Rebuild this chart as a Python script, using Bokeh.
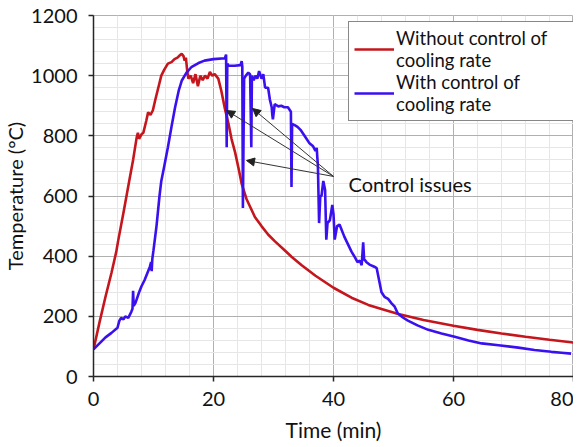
from bokeh.plotting import figure
from bokeh.models import (ColumnDataSource, SingleIntervalTicker, Range1d, Legend, LegendItem,
                          Arrow, NormalHead, Label)
from bokeh.embed import file_html
from bokeh.resources import INLINE

# ---- data ----
t_without = [0, 1, 2, 3, 3.8, 4.1, 5, 6, 6.6, 7.0, 7.2, 7.4, 7.6, 8.0, 8.3, 8.8, 9.1, 9.5, 9.9,
             10.3, 10.8, 11.3, 11.8, 12.4, 13, 13.5, 14, 14.4, 14.7, 15.0, 15.2, 15.4, 15.6, 15.8,
             16.2, 16.6, 17.0, 17.4, 17.8, 18.2, 18.6, 19.0, 19.4, 19.8, 20.2, 20.8, 21.3, 21.9,
             22.5, 23.0, 23.6, 24.2, 24.7, 25.5, 26.2, 26.9, 28, 29.1, 30.2, 31.9, 33, 34.7, 37,
             40, 43, 45.8, 48, 50.8, 55, 60, 64, 68, 72, 76, 80]
T_without = [90, 180, 265, 345, 415, 450, 545, 655, 720, 770, 795, 810, 790, 805, 810, 850, 878,
             870, 885, 920, 960, 1000, 1020, 1040, 1045, 1055, 1060, 1068, 1073, 1065, 1050, 1060,
             1020, 990, 1000, 975, 1005, 965, 1000, 985, 1000, 990, 1012, 1000, 1005, 990, 950,
             890, 840, 790, 745, 690, 640, 590, 560, 530, 500, 472, 450, 419, 398, 370, 335, 295,
             262, 238, 224, 208, 188, 169, 155, 143, 132, 122, 113]

t_with = [0, 1, 2, 3, 4, 4.3, 4.6, 5.0, 5.3, 5.8, 6.3, 6.5, 6.6, 6.7, 7.0, 7.6, 8.0, 8.5, 9.0,
          9.4, 9.6, 9.7, 9.8, 10.0, 10.5, 11.0, 11.3, 11.8, 12.4, 13.0, 13.6, 14.2, 14.7, 15.5,
          16.3, 17.5, 18.5, 20, 21.9, 22.1, 22.2, 22.3, 22.5, 23.5, 24.5, 24.7, 24.8, 24.9, 25.1,
          25.4, 25.8, 26.1, 26.3, 26.4, 26.7, 27.0, 27.3, 27.6, 28.0, 28.3, 28.6, 29.1, 29.4,
          29.7, 29.8, 29.9, 30.2, 30.8, 31.3, 31.8, 32.4, 32.9, 33.0, 33.1, 33.6, 34.0, 34.5,
          35.0, 35.5, 36.0, 36.6, 37.0, 37.2, 37.4, 37.6, 37.8, 38.0, 38.3, 38.6, 38.8, 39.0,
          39.4, 39.8, 40.0, 40.2, 40.6, 41.0, 41.3, 41.8, 42.4, 43.0, 43.6, 44.0, 44.4, 44.7,
          44.95, 45.1, 45.5, 46.0, 46.8, 47.2, 47.6, 48.0, 48.5, 49.1, 49.6, 50.2, 50.7, 51.5,
          52.4, 54, 55.8, 58, 60.2, 62.5, 64.7, 67.5, 70.8, 73.5, 76.3, 78, 79.6]
T_with = [90, 110, 130, 145, 162, 185, 195, 190, 200, 195, 215, 225, 285, 235, 245, 280, 300,
          320, 345, 365, 380, 350, 390, 420, 500, 600, 650, 700, 762, 830, 895, 950, 983, 1010,
          1028, 1042, 1050, 1055, 1058, 1070, 762, 1040, 1033, 1033, 1035, 1048, 1030, 560, 990,
          1000, 1010, 1005, 762, 1000, 985, 1000, 990, 1015, 990, 1005, 960, 960, 920, 895, 870,
          855, 905, 898, 900, 895, 895, 880, 630, 840, 835, 830, 820, 805, 790, 775, 765, 750,
          760, 700, 510, 600, 600, 650, 620, 455, 510, 520, 570, 540, 455, 500, 505, 490, 465,
          440, 415, 395, 380, 385, 370, 446, 390, 380, 372, 365, 360, 320, 280, 265, 258, 245,
          232, 210, 197, 186, 170, 155, 143, 132, 120, 110, 104, 96, 88, 82, 79, 76]

series_labels = ["Without control of\ncooling rate", "With control of\ncooling rate"]
annotation_text = "Control issues"
# arrows: common tail, three tips (time, temperature)
arrow_tail = (40.0, 665)
arrow_tips = [(22.2, 884), (26.5, 891), (25.5, 718)]
annotation_pos = (42.5, 641)

RED = "#C4161C"
BLUE = "#3A10F0"
FONT = "Lato"

p = figure(width=573, height=447, min_border_left=84, min_border_right=0,
           min_border_top=15, min_border_bottom=71, output_backend="svg", toolbar_location=None,
           x_range=Range1d(0, 80), y_range=Range1d(0, 1200),
           x_axis_label="Time (min)", y_axis_label="Temperature (°C)")

p.background_fill_color = "white"
p.border_fill_color = "white"
p.outline_line_color = "#B0B0B0"

p.xaxis.ticker = SingleIntervalTicker(interval=20, num_minor_ticks=5)
p.yaxis.ticker = SingleIntervalTicker(interval=200, num_minor_ticks=5)

for g in (p.xgrid, p.ygrid):
    g.grid_line_color = "#B0B0B0"
    g.grid_line_width = 1
    g.minor_grid_line_color = "#E6E6E6"
    g.minor_grid_line_width = 1

for ax in (p.xaxis, p.yaxis):
    ax.axis_line_color = "#262626"
    ax.axis_line_width = 1.5
    ax.major_tick_line_color = "#262626"
    ax.major_tick_line_width = 1.5
    ax.major_tick_out = 5
    ax.major_tick_in = 0
    ax.minor_tick_line_color = None
    ax.major_label_text_font = FONT
    ax.major_label_text_font_size = "20px"
    ax.major_label_text_color = "#111111"
    ax.axis_label_text_font = FONT
    ax.axis_label_text_font_style = "normal"
    ax.axis_label_text_color = "#111111"

p.xaxis.axis_label_text_font_size = "21px"
p.yaxis.axis_label_text_font_size = "20px"
p.xaxis.major_label_standoff = 10
p.xaxis.axis_label_standoff = 8
p.yaxis.major_label_standoff = 11
p.yaxis.axis_label_standoff = 1

src_red = ColumnDataSource(dict(t=t_without, T=T_without))
src_blue = ColumnDataSource(dict(t=t_with, T=T_with))
r_red = p.line("t", "T", source=src_red, line_color=RED, line_width=2.6)
r_blue = p.line("t", "T", source=src_blue, line_color=BLUE, line_width=2.6)

for (tx, ty) in arrow_tips:
    p.add_layout(Arrow(end=NormalHead(size=8, fill_color="#222222", line_color="#222222"),
                       x_start=arrow_tail[0], y_start=arrow_tail[1], x_end=tx, y_end=ty,
                       line_color="#333333", line_width=1))

p.add_layout(Label(x=annotation_pos[0], y=annotation_pos[1], text=annotation_text,
                   text_font=FONT, text_font_size="20px", text_baseline="middle",
                   text_align="left", text_color="#111111"))

legend = Legend(items=[LegendItem(label=series_labels[0], renderers=[r_red]),
                       LegendItem(label=series_labels[1], renderers=[r_blue])],
                location=(255, 255))
legend.label_text_font = FONT
legend.label_text_font_size = "18.5px"
legend.label_text_color = "#111111"
legend.glyph_width = 40
legend.label_standoff = 2
legend.label_width = 172
legend.spacing = 0
legend.padding = 5
legend.border_line_color = "#111111"
legend.border_line_width = 1.5
legend.background_fill_color = "white"
legend.background_fill_alpha = 1
p.add_layout(legend)

open("out.html", "w").write(file_html(p, INLINE))
